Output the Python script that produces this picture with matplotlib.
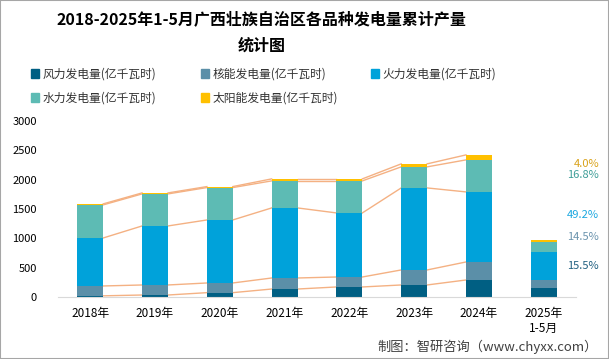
import numpy as np
import matplotlib.pyplot as plt
from matplotlib.patches import Rectangle, Patch

plt.rcParams['font.family'] = ['Noto Sans CJK SC', 'DejaVu Sans']

years = ['2018年', '2019年', '2020年', '2021年', '2022年', '2023年', '2024年', '2025年\n1-5月']
series_names = ['风力发电量(亿千瓦时)', '核能发电量(亿千瓦时)', '火力发电量(亿千瓦时)',
                '水力发电量(亿千瓦时)', '太阳能发电量(亿千瓦时)']
wind = [20, 34, 74, 136, 171, 205, 290, 151]
nuclear = [168, 171, 165, 188, 170, 256, 307, 141]
thermal = [818, 1006, 1074, 1194, 1092, 1398, 1194, 480]
hydro = [564, 546, 552, 461, 546, 359, 546, 164]
solar = [17, 17, 17, 34, 34, 51, 85, 39]
shares = ['15.5%', '14.5%', '49.2%', '16.8%', '4.0%']

colors = ['#005F83', '#5B8FA8', '#00A2DA', '#5DBBB4', '#FFC000']
share_colors = ['#1F5F80', '#6A93AD', '#1AA7E0', '#3E9E98', '#D9A21A']

fig = plt.figure(figsize=(6.09, 3.59), dpi=100)
ax = fig.add_axes([0.095, 0.1727, 0.851, 0.4903])

data = np.array([wind, nuclear, thermal, hydro, solar])
x = np.arange(len(years))
w = 0.4
bottom = np.zeros(len(years))
for vals, c, name in zip(data, colors, series_names):
    ax.bar(x, vals, w, bottom=bottom, color=c, label=name, zorder=2)
    bottom = bottom + vals

# series lines between bars (not to the 2025 partial year)
tops = np.cumsum(data, axis=0)
for row in tops:
    for i in range(len(years) - 2):
        ax.plot([x[i] + w / 2, x[i + 1] - w / 2], [row[i], row[i + 1]],
                color='#F4B183', lw=1, zorder=1)

ax.set_xlim(-0.5, len(years) - 0.5)
ax.set_ylim(0, 3000)
ax.set_yticks(np.arange(0, 3001, 500))
ax.set_xticks(x)
ax.set_xticklabels(years, fontsize=8.5)
ax.tick_params(axis='y', length=0, labelsize=8, pad=15)
ax.tick_params(axis='x', length=0, pad=7)
for s in ['top', 'right', 'left']:
    ax.spines[s].set_visible(False)
ax.spines['bottom'].set_color('#D9D9D9')

# share labels for 2025
share_y = [266, 237, 215, 175, 164]
for lab, c, yp in zip(shares, share_colors, share_y):
    fig.text(599 / 609, 1 - yp / 359, lab, color=c, fontsize=8,
             ha='right', va='center')

fig.text(0.43, 1 - 19 / 359, '2018-2025年1-5月广西壮族自治区各品种发电量累计产量',
         ha='center', va='center', fontsize=11.5, fontweight='bold')
fig.text(0.43, 1 - 46 / 359, '统计图', ha='center', va='center',
         fontsize=11.5, fontweight='bold')

# legend, row by row
leg_pos = [(31, 74), (201, 74), (371, 74), (31, 98), (201, 98)]
for (lx, ly), c, name in zip(leg_pos, colors, series_names):
    lg = fig.legend(handles=[Patch(color=c, label=name)], loc='center left',
                    bbox_to_anchor=(lx / 609, 1 - ly / 359), frameon=False,
                    fontsize=8.5, handlelength=0.7, handleheight=0.7,
                    handletextpad=0.3, borderpad=0, borderaxespad=0)
    for t in lg.get_texts():
        t.set_color('#333333')

fig.text(598 / 609, 1 - 347 / 359, '制图：智研咨询（www.chyxx.com）',
         ha='right', va='center', fontsize=9.5, color='#404040')

fig.patches.append(Rectangle((0, 0), 1, 1, transform=fig.transFigure,
                             fill=False, edgecolor='#A6A6A6', lw=1.5))

fig.savefig('out.png', dpi=100)
